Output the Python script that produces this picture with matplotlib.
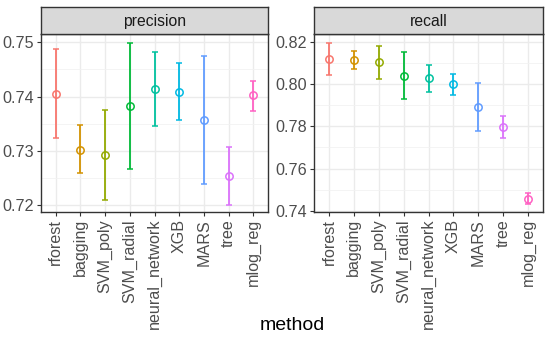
import numpy as np
import matplotlib.pyplot as plt

plt.rcParams['font.family'] = ['Liberation Sans', 'DejaVu Sans']

methods = ['rforest', 'bagging', 'SVM_poly', 'SVM_radial', 'neural_network',
           'XGB', 'MARS', 'tree', 'mlog_reg']
colors = ['#F8766D', '#D39200', '#93AA00', '#00BA38', '#00C19F',
          '#00B9E3', '#619CFF', '#DB72FB', '#FF61C3']

# precision: mean, lower, upper
prec_mean = [0.7405, 0.7302, 0.7292, 0.7383, 0.7413, 0.7408, 0.7357, 0.7254, 0.7402]
prec_low = [0.7324, 0.7259, 0.7210, 0.7267, 0.7346, 0.7357, 0.7240, 0.7201, 0.7373]
prec_high = [0.7487, 0.7347, 0.7375, 0.7499, 0.7481, 0.7461, 0.7475, 0.7308, 0.7429]

# recall: mean, lower, upper
rec_mean = [0.8118, 0.8113, 0.8103, 0.8038, 0.8027, 0.7999, 0.7891, 0.7795, 0.7456]
rec_low = [0.8041, 0.8071, 0.8024, 0.7929, 0.7962, 0.7948, 0.7779, 0.7743, 0.7431]
rec_high = [0.8195, 0.8156, 0.8178, 0.8150, 0.8091, 0.8049, 0.8005, 0.7847, 0.7486]

W, H = 550, 338
fig = plt.figure(figsize=(W / 100, H / 100), dpi=100)


def panel(x0, x1, title, mean, low, high, ylim, major, minor, fmt):
    ax = fig.add_axes([x0 / W, (H - 212) / H, (x1 - x0) / W, (212 - 34) / H])
    x = np.arange(len(methods))
    for i in x:
        ax.errorbar(i, mean[i], yerr=[[mean[i] - low[i]], [high[i] - mean[i]]],
                    fmt='o', mfc='none', mec=colors[i], ecolor=colors[i],
                    ms=5.3, mew=1.1, elinewidth=1.3, capsize=2.5, capthick=1.3, zorder=3)
    ax.set_xlim(-0.6, len(methods) - 0.4)
    ax.set_ylim(*ylim)
    ax.set_yticks(major)
    ax.set_yticks(minor, minor=True)
    ax.set_yticklabels([fmt.format(v) for v in major])
    ax.set_xticks(x)
    ax.set_xticklabels(methods, rotation=90)
    ax.grid(True, which='major', color='#EBEBEB', lw=1.0, zorder=0)
    ax.grid(True, which='minor', axis='y', color='#F2F2F2', lw=0.6, zorder=0)
    ax.set_axisbelow(True)
    ax.tick_params(axis='both', which='major', length=3, color='#333333',
                   labelcolor='#4D4D4D', labelsize=11.6, pad=2)
    ax.tick_params(axis='y', which='minor', length=0)
    for s in ax.spines.values():
        s.set_color('#333333')
        s.set_linewidth(1.0)
    # strip
    st = fig.add_axes([x0 / W, (H - 34) / H, (x1 - x0) / W, 27 / H])
    st.set_facecolor('#D9D9D9')
    st.set_xticks([])
    st.set_yticks([])
    for s in st.spines.values():
        s.set_color('#333333')
        s.set_linewidth(1.0)
    st.text(0.5, 0.45, title, ha='center', va='center', fontsize=11.3,
            color='#1A1A1A', transform=st.transAxes)
    return ax


panel(41, 268, 'precision', prec_mean, prec_low, prec_high,
      (0.71877, 0.7515), [0.72, 0.73, 0.74, 0.75], [0.725, 0.735, 0.745], '{:.2f}')
panel(314, 543, 'recall', rec_mean, rec_low, rec_high,
      (0.7395, 0.8236), [0.74, 0.76, 0.78, 0.80, 0.82], [0.75, 0.77, 0.79, 0.81], '{:.2f}')

fig.text(292 / W, 1 - 325 / H, 'method', ha='center', va='center', fontsize=14)

fig.savefig('out.png', dpi=100)
